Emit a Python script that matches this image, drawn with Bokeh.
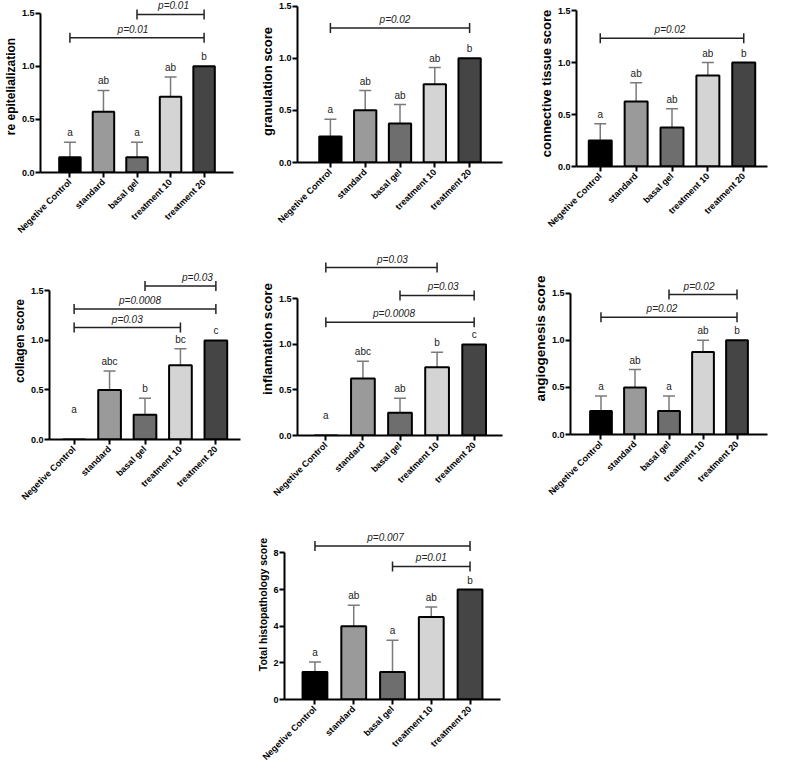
import math
from bokeh.plotting import figure
from bokeh.models import (FactorRange, Range1d, Whisker, TeeHead, ColumnDataSource,
                          FixedTicker, NumeralTickFormatter, Spacer)
from bokeh.layouts import column, row
from bokeh.core.properties import value
from bokeh.embed import file_html
from bokeh.resources import INLINE

# ---------------- data ----------------
categories = ["Negetive Control", "standard", "basal gel", "treatment 10", "treatment 20"]
bar_colors = ["#000000", "#9a9a9a", "#6e6e6e", "#d4d4d4", "#454545"]

reepi_mean = [0.143, 0.571, 0.143, 0.714, 1.0]
reepi_err = [0.143, 0.202, 0.143, 0.185, 0.0]
reepi_letters = ["a", "ab", "a", "ab", "b"]
reepi_brackets = [("basal gel", "treatment 20", 1.488, "p=0.01", 3),
                  ("Negetive Control", "treatment 20", 1.268, "p=0.01", -4)]

gran_mean = [0.25, 0.5, 0.375, 0.75, 1.0]
gran_err = [0.165, 0.19, 0.18, 0.16, 0.0]
gran_letters = ["a", "ab", "ab", "ab", "b"]
gran_brackets = [("Negetive Control", "treatment 20", 1.289, "p=0.02", -5)]

conn_mean = [0.25, 0.625, 0.375, 0.875, 1.0]
conn_err = [0.16, 0.18, 0.18, 0.125, 0.0]
conn_letters = ["a", "ab", "ab", "ab", "b"]
conn_brackets = [("Negetive Control", "treatment 20", 1.234, "p=0.02", -2)]

coll_mean = [0.0, 0.5, 0.25, 0.75, 1.0]
coll_err = [0.0, 0.19, 0.165, 0.165, 0.0]
coll_letters = ["a", "abc", "b", "bc", "c"]
coll_brackets = [("basal gel", "treatment 20", 1.55, "p=0.03", 17),
                 ("Negetive Control", "treatment 20", 1.318, "p=0.0008", -5),
                 ("Negetive Control", "treatment 10", 1.13, "p=0.03", 0)]

infl_mean = [0.0, 0.625, 0.25, 0.75, 1.0]
infl_err = [0.0, 0.19, 0.16, 0.165, 0.0]
infl_letters = ["a", "abc", "ab", "b", "c"]
infl_brackets = [("Negetive Control", "treatment 10", 1.844, "p=0.03", 11),
                 ("basal gel", "treatment 20", 1.537, "p=0.03", 6),
                 ("Negetive Control", "treatment 20", 1.244, "p=0.0008", -6)]

angio_mean = [0.25, 0.5, 0.25, 0.875, 1.0]
angio_err = [0.16, 0.19, 0.16, 0.125, 0.0]
angio_letters = ["a", "ab", "a", "ab", "b"]
angio_brackets = [("basal gel", "treatment 20", 1.486, "p=0.02", -4),
                  ("Negetive Control", "treatment 20", 1.245, "p=0.02", -7)]

total_mean = [1.5, 4.0, 1.5, 4.5, 6.0]
total_err = [0.55, 1.15, 1.73, 0.55, 0.0]
total_letters = ["a", "ab", "a", "ab", "b"]
total_brackets = [("Negetive Control", "treatment 20", 8.38, "p=0.007", -7),
                  ("basal gel", "treatment 20", 7.26, "p=0.01", 0)]

score_ticks = [0, 0.5, 1.0, 1.5]
total_ticks = [0, 2, 4, 6, 8]

FONT = "Liberation Sans"
INK = "#222222"
BB = 70  # bottom border under the x axis

# rows (screen px): top, total height
ROW1 = (0, 242)
ROW2 = (242, 267)
ROW3 = (509, 259)


def make_panel(mean, err, letters, brackets, ylabel, label_px, yticks, tickfmt,
               xbox, rowgeom, geom, letter_floor=0.0, letter_px=10, bb=BB):
    bx0, bw = xbox
    top, rh = rowgeom
    ax, xend, fbot, unit, c0, c4 = geom
    bh = int(round(fbot + bb - top))
    ymax = (fbot - top) / unit
    step = (c4 - c0) / (len(categories) - 1)
    pad = ((c0 - ax) + (xend - c4)) / step - 1.0
    p = figure(width=bw, height=bh,
               x_range=FactorRange(factors=categories, range_padding=pad,
                                   range_padding_units="absolute"),
               y_range=Range1d(0, ymax),
               output_backend="svg", toolbar_location=None,
               min_border_left=int(round(ax - bx0)),
               min_border_right=int(round(bx0 + bw - xend)),
               min_border_top=0,
               min_border_bottom=bb)
    p.xgrid.visible = False
    p.ygrid.visible = False
    p.outline_line_color = None
    p.background_fill_color = "white"
    p.border_fill_color = "white"
    for a in (p.xaxis[0], p.yaxis[0]):
        a.axis_line_width = 2
        a.axis_line_color = "black"
        a.major_tick_line_width = 2
        a.major_tick_line_color = "black"
        a.major_tick_out = 5
        a.major_tick_in = 0
        a.minor_tick_line_color = None
        a.major_label_text_font = FONT
        a.major_label_text_font_style = "bold"
        a.major_label_text_font_size = "9px"
        a.major_label_text_color = "black"
    p.yaxis.major_label_standoff = 1
    p.xaxis.major_label_standoff = 3
    p.xaxis.major_label_orientation = math.pi / 4
    p.yaxis.ticker = FixedTicker(ticks=yticks)
    p.yaxis.formatter = NumeralTickFormatter(format=tickfmt)
    p.yaxis.bounds = (0, yticks[-1])
    p.yaxis.axis_label = ylabel
    p.yaxis.axis_label_text_font = FONT
    p.yaxis.axis_label_text_font_style = "bold"
    p.yaxis.axis_label_text_font_size = f"{label_px}px"
    p.yaxis.axis_label_text_color = "black"
    p.yaxis.axis_label_standoff = 1

    # error bars (upper only)
    wcat, wlo, wup = [], [], []
    for c, m, e in zip(categories, mean, err):
        if e > 0:
            wcat.append(c)
            wlo.append(m)
            wup.append(m + e)
    wsrc = ColumnDataSource(dict(cat=wcat, lo=wlo, up=wup))
    p.add_layout(Whisker(source=wsrc, base="cat", lower="lo", upper="up",
                         line_color="#7a7a7a", line_width=1.5,
                         upper_head=TeeHead(size=12, line_color="#7a7a7a", line_width=1.5),
                         lower_head=None, level="underlay"))

    src = ColumnDataSource(dict(cat=categories, mean=mean, color=bar_colors))
    p.vbar(x="cat", top="mean", width=0.64, source=src, fill_color="color",
           line_color="black", line_width=2)

    ly = [max(m + e, letter_floor) for m, e in zip(mean, err)]
    p.text(x=categories, y=ly, text=letters, text_align="center", text_baseline="bottom",
           y_offset=-4, text_font=value(FONT), text_font_size=f"{letter_px}px",
           text_color=INK)

    tick = 5.0 / unit
    for a, b, h, lab, dx in brackets:
        xa = categories.index(a) + 0.5
        xb = categories.index(b) + 0.5
        p.segment(x0=[xa, xa, xb], y0=[h, h - tick, h - tick],
                  x1=[xb, xa, xb], y1=[h, h + tick, h + tick],
                  line_color=INK, line_width=1.5)
        p.text(x=[(xa + xb) / 2], y=[h], text=[lab], text_align="center",
               text_baseline="bottom", x_offset=dx, y_offset=-3,
               text_font=value(FONT), text_font_style="italic",
               text_font_size="10px", text_color=INK)
    if bh < rh:
        return column(p, Spacer(width=bw, height=rh - bh))
    return p


p1 = make_panel(reepi_mean, reepi_err, reepi_letters, reepi_brackets,
                "re epitelialization", 12, score_ticks, "0.0",
                (8, 256), ROW1, (36, 241, 172, 106.2, 62, 214.5))
p2 = make_panel(gran_mean, gran_err, gran_letters, gran_brackets,
                "granulation score", 13, score_ticks, "0.0",
                (264, 266), ROW1, (302, 510, 162, 104.3, 332.5, 485.3))
p3 = make_panel(conn_mean, conn_err, conn_letters, conn_brackets,
                "connective tissue score", 13, score_ticks, "0.0",
                (530, 247), ROW1, (584, 775, 166, 104.0, 610.2, 758.2))
p4 = make_panel(coll_mean, coll_err, coll_letters, coll_brackets,
                "collagen score", 12, score_ticks, "0.0",
                (8, 256), ROW2, (56.7, 248, 439, 99.1, 81.7, 229),
                letter_floor=0.21)
p5 = make_panel(infl_mean, infl_err, infl_letters, infl_brackets,
                "inflamation score", 13.5, score_ticks, "0.0",
                (264, 266), ROW2, (304.3, 510, 435, 91.1, 332, 488.3),
                letter_floor=0.11)
p6 = make_panel(angio_mean, angio_err, angio_letters, angio_brackets,
                "angiogenesis score", 13.5, score_ticks, "0.0",
                (530, 247), ROW2, (578.3, 775, 434, 94.2, 605.2, 751))
p7 = make_panel(total_mean, total_err, total_letters, total_brackets,
                "Total histopathology score", 10.5, total_ticks, "0",
                (262, 268), ROW3, (289.3, 508, 700, 18.42, 320.5, 486), bb=68)

layout = column(row(p1, p2, p3), row(p4, p5, p6),
                row(Spacer(width=254, height=ROW3[1]), p7))

open("out.html", "w").write(file_html(layout, INLINE))
